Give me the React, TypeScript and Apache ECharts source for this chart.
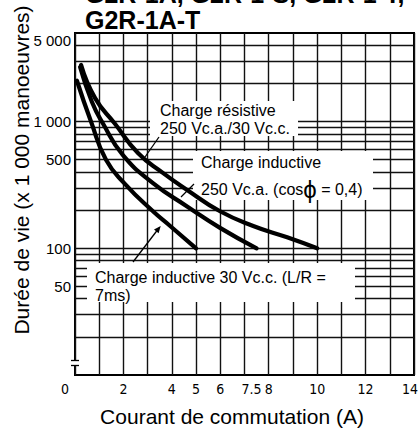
import React, { useEffect, useRef } from 'react';
import * as echarts from 'echarts';

// ---- data ----
const xTickLabels = [0, 2, 4, 5, 6, 7.5, 8, 10, 12, 14];
const yTickLabels = [5000, 1000, 500, 100, 50];
const yGridValues = [20, 30, 40, 50, 60, 70, 80, 90, 100, 200, 300, 400, 500, 600, 700, 800, 900, 1000, 2000, 3000, 4000];

// Charge résistive 250 Vc.a./30 Vc.c.
const resistiveX = [0.25, 0.83, 1.65, 2.6, 3.6, 4.63, 5.99, 7.36, 8.76, 10];
const resistiveY = [2800, 1530, 960, 565, 397, 289, 196, 150, 122, 100];
// Charge inductive 250 Vc.a. (cos phi = 0,4)
const inductiveAcX = [0.21, 0.7, 1.16, 1.98, 3.22, 4.63, 5.99, 7.5];
const inductiveAcY = [2700, 1427, 960, 543, 327, 214, 145, 100];
// Charge inductive 30 Vc.c. (L/R = 7ms)
const inductiveDcX = [0.08, 0.66, 1.28, 2.07, 3.22, 3.93, 5];
const inductiveDcY = [2100, 1000, 500, 321, 196, 150, 100];

const FONT = "'Liberation Sans', Arial, Helvetica, sans-serif";

const pairs = (xs: number[], ys: number[]) => xs.map((x, i) => [x, ys[i]]);

const fmtThousands = (v: number) => (v >= 1000 ? `${Math.floor(v / 1000)} ${String(v % 1000).padStart(3, '0')}` : String(v));

const curve = (name: string, xs: number[], ys: number[]) => ({
  name,
  type: 'line',
  data: pairs(xs, ys),
  symbol: 'none',
  showSymbol: false,
  smooth: 0.5,
  silent: true,
  z: 10,
  lineStyle: { color: '#000', width: 4.2, cap: 'round', join: 'round' },
});

const txt = (text: string, x: number, y: number, size: number, extra: any = {}) => ({
  type: 'text',
  x,
  y,
  z: 20,
  silent: true,
  ...extra,
  style: {
    text,
    fill: '#000',
    font: `${extra.bold ? 'bold ' : ''}${size}px ${FONT}`,
    align: extra.align || 'left',
    textAlign: extra.align || 'left',
    verticalAlign: 'middle',
    textVerticalAlign: 'middle',
    ...(extra.style || {}),
  },
});

const box = (x: number, y: number, w: number, h: number) => ({
  type: 'rect',
  z: 3,
  silent: true,
  shape: { x, y, width: w, height: h },
  style: { fill: '#fff', stroke: null },
});

const seg = (x1: number, y1: number, x2: number, y2: number, w = 1.3) => ({
  type: 'line',
  z: 12,
  silent: true,
  shape: { x1, y1, x2, y2 },
  style: { stroke: '#000', lineWidth: w },
});

export default function App() {
  const ref = useRef<HTMLDivElement>(null);

  useEffect(() => {
    if (!ref.current) return;
    const chart = echarts.init(ref.current, undefined, { renderer: 'svg' });

    const option: any = {
      animation: false,
      backgroundColor: '#fff',
      grid: {
        left: 75,
        right: 6,
        top: 33,
        bottom: 56,
        show: true,
        borderColor: '#000',
        borderWidth: 2,
        backgroundColor: 'transparent',
        outerBoundsMode: 'none',
        containLabel: false,
      },
      xAxis: {
        type: 'value',
        min: 0,
        max: 14,
        interval: 1,
        axisLine: { show: false },
        axisTick: { show: false },
        splitLine: { show: true, lineStyle: { color: '#111', width: 1.4 } },
        axisLabel: {
          customValues: xTickLabels,
          margin: 7,
          color: '#000',
          fontSize: 14,
          fontFamily: "'Liberation Sans Narrow', 'DejaVu Sans Condensed', " + FONT,
          formatter: (v: number) =>
            v === 0 ? '{l|0}' : v === 7.5 ? '{m|7.5}' : v === 14 ? '{r|14}' : `{n|${v}}`,
          rich: {
            l: { padding: [0, 20, 0, 0], fontSize: 14 },
            m: { padding: [0, 10, 0, 0], fontSize: 14 },
            r: { padding: [0, 8, 0, 0], fontSize: 14 },
            n: { fontSize: 14 },
          },
        },
      },
      yAxis: {
        type: 'log',
        logBase: 10,
        min: 10,
        max: 5000,
        axisLine: { show: false },
        axisTick: { show: false },
        splitLine: { show: false },
        axisLabel: { show: false },
      },
      series: [
        {
          type: 'line',
          data: [[0, 10]],
          symbol: 'none',
          silent: true,
          lineStyle: { width: 0, opacity: 0 },
          z: 1,
          markLine: {
            z: 1,
            silent: true,
            symbol: ['none', 'none'],
            label: { show: false },
            lineStyle: { color: '#111', width: 1.4, type: 'solid' },
            data: yGridValues.map((v) => ({ yAxis: v })),
          },
        },
        curve('Charge résistive', resistiveX, resistiveY),
        curve('Charge inductive 250 Vc.a.', inductiveAcX, inductiveAcY),
        curve('Charge inductive 30 Vc.c.', inductiveDcX, inductiveDcY),
      ],
    };
    chart.setOption(option);

    const x0 = chart.convertToPixel({ xAxisIndex: 0 }, 0) as number;
    const yLabels = yTickLabels.map((v) => {
      const py = chart.convertToPixel({ yAxisIndex: 0 }, v) as number;
      return txt(fmtThousands(v), x0 - 4, py + (v === 5000 ? 7 : 0), 15, { align: 'right' });
    });

    const graphic: any[] = [
      ...yLabels,
      // titles
      txt('G2R-1A, G2R-1-S, G2R-1-T,', 85, -6, 25, { bold: true }),
      txt('G2R-1A-T', 85, 20, 25, { bold: true }),
      txt('Durée de vie (x 1 000 manoeuvres)', 21, 170, 21, { align: 'center', rotation: Math.PI / 2 }),
      txt('Courant de commutation (A)', 232, 416, 21, { align: 'center' }),
      // label boxes
      box(150, 101, 148, 35),
      box(193, 151, 180, 49),
      box(87, 263, 268, 39),
      // annotations
      txt('Charge résistive', 160, 110, 16),
      txt('250 Vc.a./30 Vc.c.', 160, 128, 16),
      txt('Charge inductive', 201, 162, 16),
      txt('250 Vc.a. (cos{phi|ϕ} = 0,4)', 201, 189, 16, {
        style: { rich: { phi: { fontSize: 24, fontFamily: FONT, fill: '#000' } } },
      }),
      txt('Charge inductive 30 Vc.c. (L/R =', 95, 277, 16),
      txt('7ms)', 95, 295, 16),
      // pointer lines
      seg(159, 137, 145, 157),
      seg(194, 184, 181, 197),
      seg(133, 262, 159, 228),
      {
        type: 'polygon',
        z: 12,
        silent: true,
        shape: { points: [[160.7, 226], [158.6, 233.3], [154, 229.5]] },
        style: { fill: '#000' },
      },
      // axis break mark
      { type: 'rect', z: 12, silent: true, shape: { x: 72, y: 361, width: 6, height: 4 }, style: { fill: '#fff' } },
      seg(71, 360.5, 79, 360.5, 1.3),
      seg(71, 365.5, 79, 365.5, 1.3),
    ];
    chart.setOption({ graphic });

    return () => chart.dispose();
  }, []);

  return <div ref={ref} style={{ position: 'fixed', left: 0, top: 0, width: 420, height: 431 }} />;
}
